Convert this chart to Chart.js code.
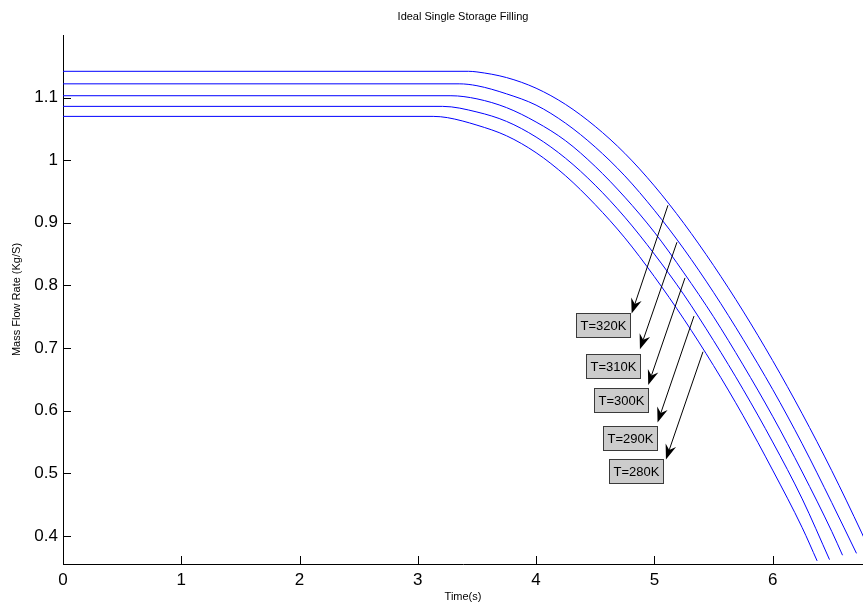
<!DOCTYPE html>
<html>
<head>
<meta charset="utf-8">
<title>Ideal Single Storage Filling</title>
<script src="https://cdn.jsdelivr.net/npm/chart.js@4.4.1/dist/chart.umd.min.js"></script>
<style>
  html, body { margin: 0; padding: 0; background: #ffffff; }
  canvas { display: block; }
</style>
</head>
<body>
<canvas id="chart" width="863" height="608"></canvas>
<script>
// ---- data -------------------------------------------------------------
const seriesNames = ['T=320K', 'T=310K', 'T=300K', 'T=290K', 'T=280K'];

const time320 = [0, 3.43, 3.5, 3.75, 4.0, 4.25, 4.5, 4.75, 5.0, 5.25, 5.5, 5.75, 6.0, 6.25, 6.5, 6.75, 6.9];
const flow320 = [1.142, 1.142, 1.141, 1.132, 1.115, 1.089, 1.054, 1.011, 0.959, 0.899, 0.832, 0.759, 0.680, 0.595, 0.504, 0.406, 0.344];

const time310 = [0, 3.35, 3.5, 3.75, 4.0, 4.25, 4.5, 4.75, 5.0, 5.25, 5.5, 5.75, 6.0, 6.25, 6.5, 6.709];
const flow310 = [1.122, 1.122, 1.119, 1.106, 1.088, 1.059, 1.021, 0.975, 0.920, 0.858, 0.789, 0.714, 0.634, 0.547, 0.453, 0.372];

const time300 = [0, 3.28, 3.5, 3.75, 4.0, 4.25, 4.5, 4.75, 5.0, 5.25, 5.5, 5.75, 6.0, 6.25, 6.5, 6.591];
const flow300 = [1.103, 1.103, 1.098, 1.084, 1.061, 1.031, 0.990, 0.941, 0.885, 0.820, 0.750, 0.673, 0.591, 0.502, 0.407, 0.369];

const time290 = [0, 3.21, 3.5, 3.75, 4.0, 4.25, 4.5, 4.75, 5.0, 5.25, 5.5, 5.75, 6.0, 6.25, 6.481];
const flow290 = [1.086, 1.086, 1.077, 1.062, 1.037, 1.003, 0.960, 0.909, 0.850, 0.785, 0.712, 0.634, 0.550, 0.459, 0.362];

const time280 = [0, 3.13, 3.25, 3.5, 3.75, 4.0, 4.25, 4.5, 4.75, 5.0, 5.25, 5.5, 5.75, 6.0, 6.25, 6.376];
const flow280 = [1.070, 1.070, 1.068, 1.056, 1.039, 1.012, 0.975, 0.929, 0.876, 0.814, 0.746, 0.672, 0.592, 0.505, 0.413, 0.360];

// axis ticks
const timeTicks = [0, 1, 2, 3, 4, 5, 6];
const flowTicks = [0.4, 0.5, 0.6, 0.7, 0.8, 0.9, 1, 1.1];

// callout arrows (data units): from a point on the curve to the label
const arrowFromTime = [5.115, 5.191, 5.259, 5.335, 5.411];
const arrowFromFlow = [0.928, 0.869, 0.812, 0.751, 0.694];
const arrowToTime   = [4.808, 4.878, 4.948, 5.027, 5.098];
const arrowToFlow   = [0.755, 0.698, 0.641, 0.581, 0.522];
const labelTime     = [4.567, 4.648, 4.719, 4.790, 4.842];
const labelFlow     = [0.736, 0.672, 0.617, 0.557, 0.503];

// ---- helpers ----------------------------------------------------------
const FONT = '"Liberation Sans", Arial, Helvetica, sans-serif';
const pairs = (ts, vs) => ts.map((t, i) => ({ x: t, y: vs[i] }));

const curves = [
  pairs(time320, flow320),
  pairs(time310, flow310),
  pairs(time300, flow300),
  pairs(time290, flow290),
  pairs(time280, flow280)
];

// tick marks drawn on the inner side of the axes
const innerTicks = {
  id: 'innerTicks',
  afterDatasetsDraw(chart) {
    const { ctx, chartArea, scales: { x, y } } = chart;
    ctx.save();
    ctx.strokeStyle = '#000';
    ctx.lineWidth = 1;
    ctx.beginPath();
    timeTicks.forEach(t => {
      const px = Math.round(x.getPixelForValue(t)) + 0.5;
      ctx.moveTo(px, chartArea.bottom);
      ctx.lineTo(px, chartArea.bottom - 8);
    });
    flowTicks.forEach(v => {
      const py = Math.round(y.getPixelForValue(v)) + 0.5;
      ctx.moveTo(chartArea.left, py);
      ctx.lineTo(chartArea.left + 8, py);
    });
    ctx.stroke();
    ctx.restore();
  }
};

// arrows with boxed labels naming each curve
const callouts = {
  id: 'callouts',
  afterDatasetsDraw(chart) {
    const { ctx, scales: { x, y } } = chart;
    ctx.save();
    ctx.font = '13px ' + FONT;
    seriesNames.forEach((text, i) => {
      const x0 = x.getPixelForValue(arrowFromTime[i]);
      const y0 = y.getPixelForValue(arrowFromFlow[i]);
      const x1 = x.getPixelForValue(arrowToTime[i]);
      const y1 = y.getPixelForValue(arrowToFlow[i]);
      const ang = Math.atan2(y1 - y0, x1 - x0);
      const c = Math.cos(ang), s = Math.sin(ang);
      const headLen = 15, headHalf = 5.5, notch = 10;

      ctx.strokeStyle = '#000';
      ctx.lineWidth = 1;
      ctx.beginPath();
      ctx.moveTo(x0, y0);
      ctx.lineTo(x1 - c * notch, y1 - s * notch);
      ctx.stroke();

      const bx = x1 - c * headLen, by = y1 - s * headLen;
      ctx.beginPath();
      ctx.moveTo(x1, y1);
      ctx.lineTo(bx + s * headHalf, by - c * headHalf);
      ctx.lineTo(x1 - c * notch, y1 - s * notch);
      ctx.lineTo(bx - s * headHalf, by + c * headHalf);
      ctx.closePath();
      ctx.fillStyle = '#000';
      ctx.fill();

      const cx = x.getPixelForValue(labelTime[i]);
      const cy = y.getPixelForValue(labelFlow[i]);
      const w = Math.round(ctx.measureText(text).width) + 8;
      const h = 24;
      const left = Math.round(cx - w / 2) + 0.5;
      const top = Math.round(cy - h / 2) + 0.5;
      ctx.fillStyle = '#cccccc';
      ctx.fillRect(left, top, w, h);
      ctx.strokeStyle = '#3a3a3a';
      ctx.strokeRect(left, top, w, h);
      ctx.fillStyle = '#000';
      ctx.textAlign = 'center';
      ctx.textBaseline = 'middle';
      ctx.fillText(text, left + w / 2, top + h / 2 + 0.5);
    });
    ctx.restore();
  }
};

new Chart(document.getElementById('chart'), {
  type: 'line',
  data: {
    datasets: curves.map((pts, i) => ({
      label: seriesNames[i],
      data: pts,
      borderColor: '#0000ff',
      borderWidth: 1,
      pointRadius: 0,
      fill: false,
      cubicInterpolationMode: 'monotone'
    }))
  },
  options: {
    responsive: false,
    animation: false,
    events: [],
    layout: { padding: { left: 0, right: 0, top: 0, bottom: 0 } },
    plugins: {
      legend: { display: false },
      tooltip: { enabled: false },
      title: {
        display: true,
        fullSize: false,
        text: 'Ideal Single Storage Filling',
        color: '#000',
        font: { family: FONT, size: 11, weight: 'normal' },
        padding: { top: 10, bottom: 11.8 }
      }
    },
    scales: {
      x: {
        type: 'linear',
        min: 0,
        max: 6.764,
        afterBuildTicks: s => { s.ticks = timeTicks.map(v => ({ value: v })); },
        afterFit: s => { s.height = 44; },
        ticks: {
          autoSkip: false,
          maxRotation: 0,
          padding: 6,
          color: '#000',
          font: { family: FONT, size: 17 },
          callback: v => String(v)
        },
        grid: { display: false, drawTicks: false },
        border: { display: true, color: '#000', width: 1 },
        title: {
          display: true,
          text: 'Time(s)',
          color: '#000',
          font: { family: FONT, size: 11 },
          padding: { top: 0, bottom: 4.4 }
        }
      },
      y: {
        type: 'linear',
        min: 0.355,
        max: 1.2,
        afterBuildTicks: s => { s.ticks = flowTicks.map(v => ({ value: v })); },
        afterFit: s => { s.width = 63; },
        ticks: {
          autoSkip: false,
          padding: 5,
          color: '#000',
          font: { family: FONT, size: 17 },
          callback: v => String(v)
        },
        grid: { display: false, drawTicks: false },
        border: { display: true, color: '#000', width: 1 },
        title: {
          display: true,
          text: 'Mass Flow Rate (Kg/S)',
          color: '#000',
          font: { family: FONT, size: 11 },
          padding: { top: 10, bottom: 0 }
        }
      }
    }
  },
  plugins: [innerTicks, callouts]
});
</script>
</body>
</html>
